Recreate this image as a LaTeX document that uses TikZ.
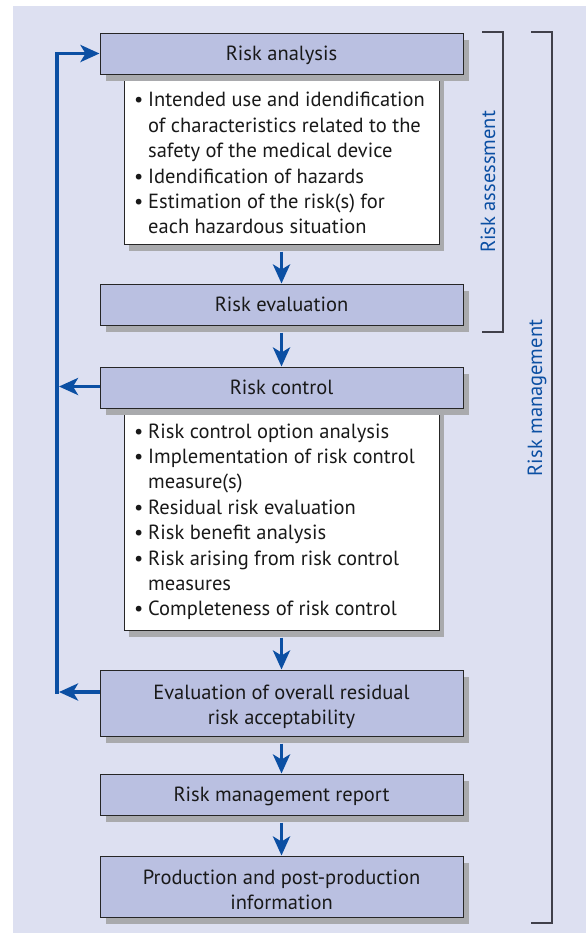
\documentclass[tikz,border=0pt]{standalone}
\usepackage{fontspec}
\setmainfont{PT Sans}
\usetikzlibrary{arrows.meta,shadows}
\definecolor{bgc}{HTML}{DDE0F1}
\definecolor{boxc}{HTML}{BAC0E1}
\definecolor{arrc}{HTML}{0B4FA3}
\definecolor{shad}{HTML}{A9AAAD}
\definecolor{brk}{HTML}{40404A}
\newcommand\itm[1]{\mbox{\makebox[14pt][l]{\textbullet}#1}}
\newcommand\cnt[1]{\mbox{\hspace*{14pt}#1}}
\begin{document}
\begin{tikzpicture}[x=1pt,y=-1pt,
 every node/.style={font=\fontsize{20.5}{25.4}\selectfont, text=black!90},
 hbox/.style={draw=black!85, line width=1pt, fill=boxc, minimum width=363pt, inner sep=0pt, align=center,
   text height=15pt, text depth=2pt,
   drop shadow={shadow xshift=6pt, shadow yshift=-7pt, fill=shad, opacity=1}},
 hbox2/.style={hbox, text height=44pt, text depth=2pt, font=\fontsize{20.5}{25}\selectfont},
 wbox/.style={draw=black!85, line width=1pt, fill=white, minimum width=315pt, inner sep=0pt,
   drop shadow={shadow xshift=5pt, shadow yshift=-7pt, fill=shad, opacity=1}},
 wtext/.style={inner sep=0pt, align=left, text depth=0pt, anchor=south west},
 flow/.style={draw=arrc, line width=3.6pt, -{Stealth[length=19pt,width=17pt,inset=5pt]}},
 brace/.style={draw=brk, line width=1.3pt},
 side/.style={text=arrc, rotate=90}
]
\useasboundingbox (0,0) rectangle (586,935);
\fill[bgc] (13,6) rectangle (586,933);

% white boxes first
\node[wbox, minimum height=170pt] (wb1) at (281.5,159) {};
\node[wtext] (wb1t) at (134,234) {%
\itm{Intended use and idendification}\\
\cnt{of characteristics related to the}\\
\cnt{safety of the medical device}\\
\itm{Idendification of hazards}\\
\itm{Estimation of the risk(s) for}\\
\cnt{each hazardous situation}};
\node[wbox, minimum height=222pt] (wb2) at (281.5,519) {};
\node[wtext] (wb2t) at (134,616) {%
\itm{Risk control option analysis}\\
\itm{Implementation of risk control}\\
\cnt{measure(s)}\\
\itm{Residual risk evaluation}\\
\itm{Risk benefit analysis}\\
\itm{Risk arising from risk control}\\
\cnt{measures}\\
\itm{Completeness of risk control}};

% header boxes
\node[hbox, minimum height=41pt] (ra) at (281.5,53.5) {Risk analysis};
\node[hbox, minimum height=41pt] (re) at (281.5,304.5) {Risk evaluation};
\node[hbox, minimum height=41pt] (rc) at (281.5,387.5) {Risk control};
\node[hbox2, minimum height=66pt] (ev) at (281.5,703) {Evaluation of overall residual\\risk acceptability};
\node[hbox, minimum height=41pt] (rmr) at (281.5,794.5) {Risk management report};
\node[hbox2, minimum height=61pt, text height=48pt] (pp) at (281.5,886.5) {Production and post-production\\information};

% flow arrows
\draw[flow] ([yshift=-7pt]wb1.south) -- (re.north);
\draw[flow] ([yshift=-7pt]re.south) -- (rc.north);
\draw[flow] ([yshift=-7pt]wb2.south) -- (ev.north);
\draw[flow] ([yshift=-7pt]ev.south) -- (rmr.north);
\draw[flow] ([yshift=-7pt]rmr.south) -- (pp.north);

% feedback
\coordinate (fbBot) at (57,693.8);
\coordinate (fbTop) at (57,53.5);
\coordinate (fbRC) at (59,386.5);
\coordinate (fbEV) at (59,692);
\draw[flow] (fbBot) -- (fbTop) -- (ra.west);
\draw[flow] (rc.west |- fbRC) -- (fbRC);
\draw[flow] (ev.west |- fbEV) -- (fbEV);

% brackets
\draw[brace] (482,32) -- (503,32) -- (503,332) -- (482,332);
\draw[brace] (531,32) -- (552,32) -- (552,923) -- (531,923);
\node[side] (lblA) at (488,182) {Risk assessment};
\node[side] (lblM) at (537,398) {Risk management};
\end{tikzpicture}
\end{document}
